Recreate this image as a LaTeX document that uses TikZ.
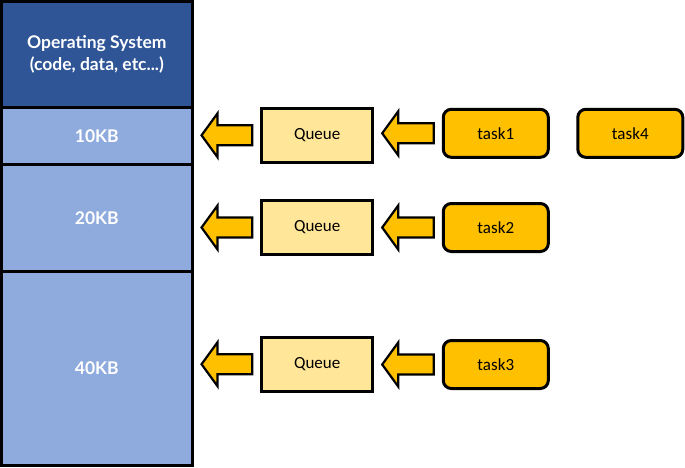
\documentclass[tikz,border=0pt]{standalone}
\usepackage{fontspec}
\setmainfont{Carlito}
\newfontfamily\memfont{Lato}
\usetikzlibrary{calc}
\definecolor{osblue}{HTML}{2F5597}
\definecolor{memblue}{HTML}{8FAADC}
\definecolor{qyellow}{HTML}{FFE699}
\definecolor{taskorange}{HTML}{FFC000}
\def\qarrow(#1,#2){
  \draw[line width=2.2pt, fill=taskorange, line join=miter]
    let \p1=(#1.west), \p2=(#2.east) in
    (\x2+9.5pt,\y1) -- (\x2+25.5pt,\y1+22pt) -- (\x2+25.5pt,\y1+10pt)
    -- (\x1-9.5pt,\y1+10pt) -- (\x1-9.5pt,\y1-10pt) -- (\x2+25.5pt,\y1-10pt)
    -- (\x2+25.5pt,\y1-22pt) -- cycle;
}

\begin{document}
\begin{tikzpicture}[x=1pt, y=-1pt,
  mem/.style={draw, line width=3pt, fill=memblue, text=white, minimum width=190.5pt,
    inner sep=0pt, outer sep=0pt, align=center,
    font=\memfont\bfseries\fontsize{17.5}{22}\selectfont},
  queue/.style={draw, line width=3pt, fill=qyellow, minimum width=111pt, minimum height=54pt,
    inner sep=0pt, outer sep=0pt, font=\fontsize{17}{20}\selectfont},
  task/.style={draw, line width=3pt, fill=taskorange, rounded corners=8pt, minimum width=105pt,
    minimum height=48pt, inner sep=0pt, outer sep=0pt, font=\fontsize{17}{20}\selectfont}]
\useasboundingbox (0,0) rectangle (685,467);
% memory
\node[mem, fill=osblue, minimum height=105.5pt] (mem_os) at (96.8,54.3) {Operating System\\(code, data, etc...)};
\node[mem, minimum height=57.3pt] (mem_10) at (96.8,135.7) {10KB};
\node[mem, minimum height=106.7pt] (mem_20) at (96.8,217.7) {20KB};
\node[mem, minimum height=194pt] (mem_40) at (96.8,368) {40KB};
% queues
\node[queue] (q_1) at (317.2,135.3) {Queue};
\node[queue] (q_2) at (317.2,227.5) {Queue};
\node[queue] (q_3) at (317.2,364.2) {Queue};
% tasks
\node[task] (t_1) at (495.8,133.3) {task1};
\node[task] (t_2) at (495.8,227.5) {task2};
\node[task] (t_3) at (495.8,364.5) {task3};
\node[task] (t_4) at (630.3,133.3) {task4};
% arrows
\qarrow(q_1,mem_10)
\qarrow(q_2,mem_20)
\qarrow(q_3,mem_40)
\qarrow(t_1,q_1)
\qarrow(t_2,q_2)
\qarrow(t_3,q_3)
\end{tikzpicture}
\end{document}
